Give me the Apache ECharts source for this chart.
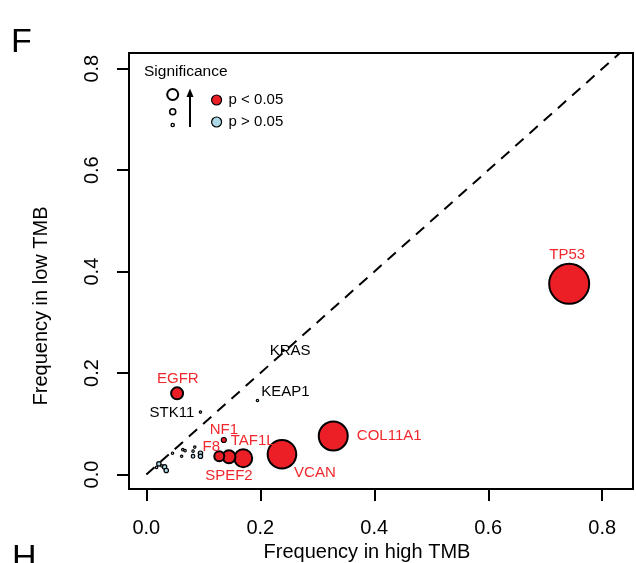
<!DOCTYPE html>
<html>
<head>
<meta charset="utf-8">
<script src="https://cdn.jsdelivr.net/npm/echarts@6/dist/echarts.min.js"></script>
<style>
  html, body { margin: 0; padding: 0; background: #fff; }
  #chart { width: 636px; height: 563px; }
</style>
</head>
<body>
<div id="chart"></div>
<script>
// Mutation frequency of each gene in high-TMB vs low-TMB tumours.
// Point size follows -log10(p); fill marks p < 0.05 (red) or not (light blue).
const genes     = ['TP53', 'COL11A1', 'VCAN', 'TAF1L', 'SPEF2', 'F8', 'NF1', 'EGFR', 'KEAP1', 'STK11', 'KRAS',
                   '', '', '', '', '', '', '', '', '', '', '', '', '', ''];
const highTMB   = [0.742, 0.328, 0.238, 0.170, 0.145, 0.128, 0.136, 0.054, 0.195, 0.095, 0.240,
                   0.022, 0.032, 0.035, 0.046, 0.064, 0.068, 0.085, 0.082, 0.062, 0.082, 0.095, 0.095, 0.018, 0.027];
const lowTMB    = [0.376, 0.076, 0.040, 0.032, 0.035, 0.036, 0.068, 0.160, 0.146, 0.123, 0.245,
                   0.021, 0.015, 0.008, 0.042, 0.049, 0.047, 0.054, 0.046, 0.036, 0.036, 0.042, 0.036, 0.014, 0.017];
const negLog10P = [19.0, 13.5, 13.3, 8.0, 5.5, 4.0, 1.5, 5.0, 0.2, 0.2, 0.2,
                   1.2, 1.2, 1.2, 0.2, 0.2, 0.2, 0.2, 0.2, 0.2, 0.8, 1.2, 1.2, 0.2, 0.2];
const xTicks = [0, 0.2, 0.4, 0.6, 0.8];
const yTicks = [0, 0.2, 0.4, 0.6, 0.8];
const sigLabels = ['p < 0.05', 'p > 0.05'];

const FONT = '"Liberation Sans", Arial, sans-serif';
const RED = '#EC1F26';
const RED_TEXT = '#F0282D';
const BLUE = '#ADD8E6';
const SIG_CUT = -Math.log10(0.05);

// where each gene name sits relative to its point (px)
const labelOffset = {
  TP53: [-2, -29], COL11A1: [56, 0], VCAN: [33, 18.5], TAF1L: [9.5, -17],
  SPEF2: [0, 19.5], F8: [-8, -9.5], NF1: [0, -10.5], EGFR: [0.7, -14.5],
  KEAP1: [28, -9], STK11: [-28.5, 0.7], KRAS: [7, 1]
};

function pointItem(i) {
  const v = negLog10P[i];
  const sig = v > SIG_CUT;
  const name = genes[i];
  const item = {
    name: name,
    value: [highTMB[i], lowTMB[i]],
    symbolSize: 2 + 2 * v,
    itemStyle: { borderWidth: v >= 3 ? 2 : 1.2 }
  };
  if (name) {
    item.label = {
      show: true,
      formatter: name,
      position: 'inside',
      offset: labelOffset[name] || [0, 0],
      color: sig ? RED_TEXT : '#000',
      fontSize: 15,
      fontFamily: FONT
    };
  }
  return item;
}

const sigData = [], nonSigData = [];
genes.forEach((g, i) => {
  (negLog10P[i] > SIG_CUT ? sigData : nonSigData).push(pointItem(i));
});

const axisFont = { fontSize: 20, color: '#000', fontFamily: FONT };

const chart = echarts.init(document.getElementById('chart'), null, { renderer: 'canvas' });
chart.setOption({
  animation: false,
  backgroundColor: '#fff',
  grid: {
    left: 129, top: 53, width: 504, height: 436,
    show: true, borderColor: '#000', borderWidth: 2, backgroundColor: 'transparent'
  },
  xAxis: {
    type: 'value', min: -0.0304, max: 0.854,
    axisLine: { show: false, onZero: false },
    splitLine: { show: false },
    axisTick: { show: true, inside: false, customValues: xTicks, length: 12, lineStyle: { color: '#000', width: 2 } },
    axisLabel: Object.assign({ customValues: xTicks, formatter: v => v.toFixed(1), margin: 29 }, axisFont)
  },
  yAxis: {
    type: 'value', min: -0.0286, max: 0.831,
    axisLine: { show: false, onZero: false },
    splitLine: { show: false },
    axisTick: { show: true, inside: false, customValues: yTicks, length: 12, lineStyle: { color: '#000', width: 2 } },
    axisLabel: Object.assign({ customValues: yTicks, formatter: v => v.toFixed(1), margin: 27, rotate: 90 }, axisFont)
  },
  legend: {
    data: sigLabels,
    orient: 'vertical',
    left: 206, top: 87,
    icon: 'circle',
    itemWidth: 10, itemHeight: 10, itemGap: 6,
    itemStyle: { borderColor: '#000', borderWidth: 1.2 },
    textStyle: { fontSize: 15, lineHeight: 16, color: '#000', fontFamily: FONT, padding: [0, 0, 0, 2] },
    selectedMode: false
  },
  series: [
    {
      type: 'line',
      data: [[0, 0], [1, 1]],
      showSymbol: false,
      silent: true,
      lineStyle: { color: '#000', width: 2, type: [11, 8] },
      z: 1
    },
    {
      name: sigLabels[1],
      type: 'scatter',
      data: nonSigData,
      itemStyle: { color: BLUE, borderColor: '#000', borderWidth: 1.2, opacity: 1 },
      z: 2
    },
    {
      name: sigLabels[0],
      type: 'scatter',
      data: sigData,
      itemStyle: { color: RED, borderColor: '#000', borderWidth: 2, opacity: 1 },
      z: 3
    }
  ],
  graphic: [
    { type: 'text', left: 11, top: 26, style: { text: 'F', font: '34px ' + FONT, fill: '#000' } },
    { type: 'text', left: 12, top: 542, style: { text: 'H', font: '34px ' + FONT, fill: '#000' } },
    { type: 'text', x: 367, y: 552, style: { text: 'Frequency in high TMB', font: '20px ' + FONT, fill: '#000', align: 'center', verticalAlign: 'middle' } },
    { type: 'text', x: 41, y: 306, rotation: Math.PI / 2, style: { text: 'Frequency in low TMB', font: '20px ' + FONT, fill: '#000', align: 'center', verticalAlign: 'middle' } },
    // significance key: circle sizes with an upward arrow
    { type: 'text', x: 144, y: 72, style: { text: 'Significance', font: '15.5px ' + FONT, fill: '#000', verticalAlign: 'middle' } },
    { type: 'circle', shape: { cx: 172.7, cy: 94.5, r: 5.5 }, style: { fill: '#fff', stroke: '#000', lineWidth: 2 } },
    { type: 'circle', shape: { cx: 172.7, cy: 111.7, r: 3 }, style: { fill: '#fff', stroke: '#000', lineWidth: 1.6 } },
    { type: 'circle', shape: { cx: 172.7, cy: 125, r: 1.6 }, style: { fill: '#fff', stroke: '#000', lineWidth: 1.4 } },
    { type: 'line', shape: { x1: 190, y1: 127, x2: 190, y2: 96 }, style: { stroke: '#000', lineWidth: 2 } },
    { type: 'polygon', shape: { points: [[190, 88.5], [186.5, 97], [193.5, 97]] }, style: { fill: '#000' } }
  ]
});
</script>
</body>
</html>
